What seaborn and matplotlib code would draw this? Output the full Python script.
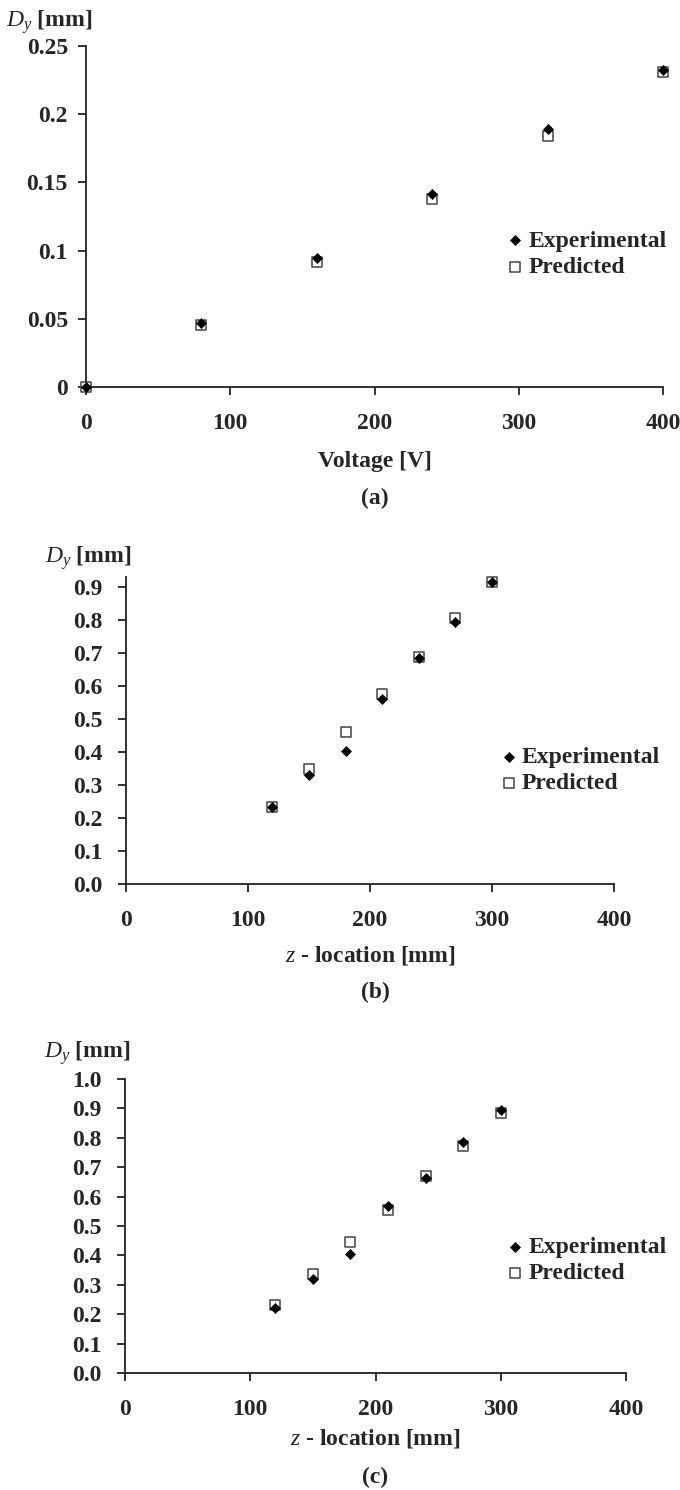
import matplotlib
matplotlib.use("Agg")
import matplotlib.pyplot as plt
import seaborn as sns

# Panel (a): deflection vs voltage
voltage = [0, 80, 160, 240, 320, 400]
dy_volt_exp = [0.0, 0.047, 0.0945, 0.1415, 0.189, 0.2325]
dy_volt_pred = [0.0, 0.0455, 0.0918, 0.138, 0.184, 0.2308]

# Panels (b) and (c): deflection vs z-location
z_loc = [120, 150, 180, 210, 240, 270, 300]
dy_b_exp = [0.232, 0.330, 0.403, 0.559, 0.685, 0.795, 0.914]
dy_b_pred = [0.234, 0.349, 0.459, 0.577, 0.688, 0.806, 0.915]
dy_c_exp = [0.221, 0.320, 0.406, 0.567, 0.663, 0.787, 0.896]
dy_c_pred = [0.230, 0.337, 0.446, 0.556, 0.669, 0.773, 0.884]

x_ticks = [0, 100, 200, 300, 400]
a_yticks = [0, 0.05, 0.1, 0.15, 0.2, 0.25]
a_yticklabels = ["0", "0.05", "0.1", "0.15", "0.2", "0.25"]
b_yticks = [0.0, 0.1, 0.2, 0.3, 0.4, 0.5, 0.6, 0.7, 0.8, 0.9]
c_yticks = [0.0, 0.1, 0.2, 0.3, 0.4, 0.5, 0.6, 0.7, 0.8, 0.9, 1.0]

sns.set_theme(style="ticks")
plt.rcParams["font.family"] = ["Liberation Serif", "DejaVu Serif"]
plt.rcParams["font.weight"] = "bold"
plt.rcParams["mathtext.fontset"] = "custom"
plt.rcParams["mathtext.rm"] = "Liberation Serif"
plt.rcParams["mathtext.it"] = "Liberation Serif:style=italic:weight=normal"
plt.rcParams["mathtext.bf"] = "Liberation Serif:weight=bold"

FS = 17
W, H = 680, 1490
fig = plt.figure(figsize=(W / 100, H / 100), dpi=100)


def make_axes(left, right, top, bottom):
    return fig.add_axes([left / W, 1 - bottom / H, (right - left) / W, (bottom - top) / H])


def draw_panel(ax, x, exp, pred, legend_xy):
    # predicted squares underneath, experimental diamonds on top
    sns.scatterplot(x=x, y=pred, marker="s", s=50, color="white", edgecolor="#444444",
                    linewidth=1.1, label="Predicted", ax=ax, clip_on=False, zorder=3)
    sns.scatterplot(x=x, y=exp, marker="D", s=26, color="black", edgecolor="black",
                    linewidth=0.5, label="Experimental", ax=ax, clip_on=False, zorder=4)
    handles, labels = ax.get_legend_handles_labels()
    ax.legend(handles[::-1], labels[::-1], loc="center left", bbox_to_anchor=legend_xy,
              frameon=False, borderpad=0, borderaxespad=0, handlelength=0.6,
              handletextpad=0.25, labelspacing=0.2,
              prop={"family": "Liberation Serif", "weight": "bold", "size": FS})
    for side in ["top", "right"]:
        ax.spines[side].set_visible(False)
    for side in ["left", "bottom"]:
        ax.spines[side].set_color("#222222")
        ax.spines[side].set_linewidth(1.3)
    ax.tick_params(axis="both", direction="out", length=6, width=1.3, color="#222222",
                   labelsize=FS)
    ax.tick_params(axis="x", pad=13)
    ax.tick_params(axis="y", pad=7)


def dy_label(ax, dx, dy):
    ax.annotate(r"$D_y\ \mathbf{[mm]}$", xy=(0, 1), xycoords="axes fraction",
                xytext=(dx, dy), textcoords="offset pixels", ha="right", va="center",
                fontsize=FS, fontweight="normal")


# (a)
ax_a = make_axes(86, 663, 46, 387)
draw_panel(ax_a, voltage, dy_volt_exp, dy_volt_pred, (0.732, 0.39))
ax_a.set_xlim(0, 400)
ax_a.set_ylim(0, 0.25)
ax_a.set_xticks(x_ticks)
ax_a.set_xticklabels([str(t) for t in x_ticks], fontweight="bold")
ax_a.set_yticks(a_yticks)
ax_a.set_yticklabels(a_yticklabels, fontweight="bold")
ax_a.set_xlabel("Voltage [V]", fontsize=FS, fontweight="bold", labelpad=12)
dy_label(ax_a, 6, 24)
fig.text(375 / W, 1 - 498 / H, "(a)", ha="center", va="center", fontsize=FS, fontweight="bold")

# (b)
ax_b = make_axes(126, 614, 577, 884)
draw_panel(ax_b, z_loc, dy_b_exp, dy_b_pred, (0.77, 0.371))
ax_b.set_xlim(0, 400)
ax_b.set_ylim(0, 0.93)
ax_b.set_xticks(x_ticks)
ax_b.set_xticklabels([str(t) for t in x_ticks], fontweight="bold")
ax_b.set_yticks(b_yticks)
ax_b.set_yticklabels([f"{t:.1f}" for t in b_yticks], fontweight="bold")
ax_b.tick_params(axis="y", pad=11)
ax_b.set_xlabel(r"$z$ - location [mm]", fontsize=FS, fontweight="bold", labelpad=9)
dy_label(ax_b, 5, 19)
fig.text(375 / W, 1 - 992 / H, "(b)", ha="center", va="center", fontsize=FS, fontweight="bold")

# (c)
ax_c = make_axes(125, 626, 1079, 1373)
draw_panel(ax_c, z_loc, dy_c_exp, dy_c_pred, (0.765, 0.384))
ax_c.set_xlim(0, 400)
ax_c.set_ylim(0, 1.0)
ax_c.set_xticks(x_ticks)
ax_c.set_xticklabels([str(t) for t in x_ticks], fontweight="bold")
ax_c.set_yticks(c_yticks)
ax_c.set_yticklabels([f"{t:.1f}" for t in c_yticks], fontweight="bold")
ax_c.tick_params(axis="y", pad=11)
ax_c.set_xlabel(r"$z$ - location [mm]", fontsize=FS, fontweight="bold", labelpad=5)
dy_label(ax_c, 5, 26)
fig.text(375 / W, 1 - 1477 / H, "(c)", ha="center", va="center", fontsize=FS, fontweight="bold")

fig.savefig("out.png", dpi=100, facecolor="white")
